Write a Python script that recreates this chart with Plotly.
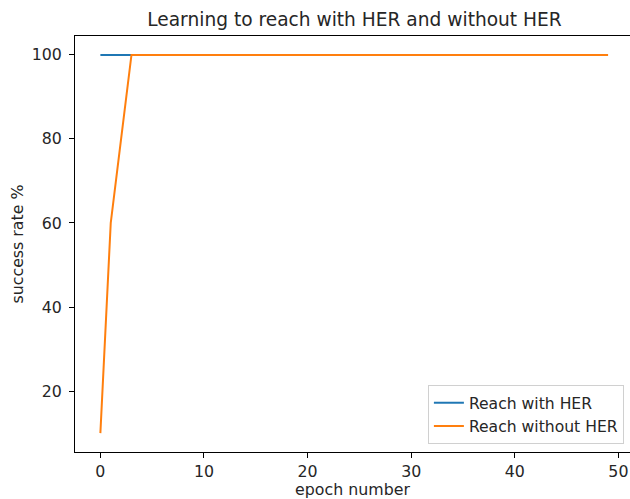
import plotly.graph_objects as go

epochs = list(range(50))
with_her = [100] * 50
without_her = [10, 60, 80] + [100] * 47

blue = "#1f77b4"
orange = "#ff7f0e"
font_family = "DejaVu Sans, sans-serif"

fig = go.Figure()
fig.add_trace(go.Scatter(x=epochs, y=with_her, mode="lines", name="Reach with HER",
                         line=dict(color=blue, width=2)))
fig.add_trace(go.Scatter(x=epochs, y=without_her, mode="lines", name="Reach without HER",
                         line=dict(color=orange, width=2)))

fig.update_layout(
    width=630, height=499,
    margin=dict(l=75, r=0, t=36, b=47),
    paper_bgcolor="white", plot_bgcolor="white",
    font=dict(family=font_family, size=15.8, color="#262626"),
    title=dict(text="Learning to reach with HER and without HER",
               x=0.5036, xref="paper", xanchor="center",
               y=1 - 19 / 499, yref="container", yanchor="middle",
               font=dict(size=18.6, color="#262626")),
    showlegend=True,
    legend=dict(x=0.989, y=0.019, xanchor="right", yanchor="bottom",
                bgcolor="rgba(255,255,255,0.8)", bordercolor="#d0d0d0", borderwidth=1,
                font=dict(size=15.6, color="#262626"), itemwidth=30,
                tracegroupgap=0),
)
fig.update_xaxes(
    range=[-2.45, 51.12], tickmode="array", tickvals=[0, 10, 20, 30, 40, 50],
    showgrid=False, zeroline=False, showline=True, linecolor="black", linewidth=1,
    mirror=True, ticks="outside", ticklen=5, tickcolor="black",
    tickfont=dict(size=15.8),
    title=dict(text="epoch number", standoff=2, font=dict(size=15.8)),
)
fig.update_yaxes(
    range=[5.5, 104.5], tickmode="array", tickvals=[20, 40, 60, 80, 100],
    showgrid=False, zeroline=False, showline=True, linecolor="black", linewidth=1,
    ticks="outside", ticklen=5, tickcolor="black", ticklabelstandoff=4,
    tickfont=dict(size=15.8),
    title=dict(text="success rate %", standoff=4, font=dict(size=15.8)),
)

fig.write_html("out.html")
